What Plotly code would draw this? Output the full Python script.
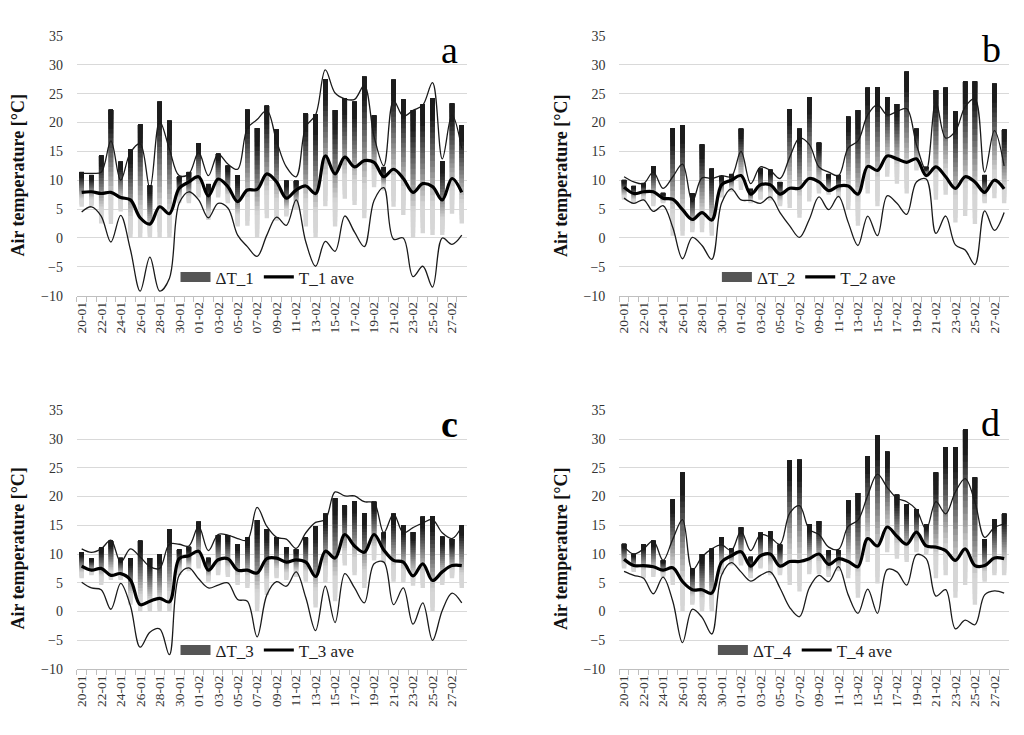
import plotly.graph_objects as go

# ---------------- data ----------------
dates = [f"{d:02d}-01" for d in range(20, 32)] + [f"{d:02d}-02" for d in range(1, 29)]

# panel a
dt1_top = [11.4, 10.9, 14.3, 22.2, 13.2, 15.3, 19.7, 9.1, 23.6, 20.3, 10.6, 11.4, 16.4, 9.3, 14.6, 12.5, 10.9, 22.2, 19.0, 22.9,
           18.8, 9.9, 9.9, 21.6, 21.4, 27.5, 22.1, 24.2, 23.6, 27.9, 21.2, 12.2, 27.4, 24.0, 22.1, 23.1, 24.2, 13.3, 23.3, 19.5]
dt1_low = [5.4, 5.5, 2.5, 2.4, 4.6, 0.0, 0.0, 0.0, 0.0, 0.0, 6.0, 6.0, 7.0, 3.1, 7.0, 6.0, 2.0, 2.1, 0.0, 3.4,
           3.0, 3.7, 5.0, 2.0, 0.0, 5.5, 2.0, 6.8, 5.7, 3.4, 8.8, 8.2, 5.4, 4.0, 0.0, 0.8, 0.5, 0.5, 4.2, 2.5]
t1_max = [11.2, 11.2, 11.4, 16.8, 10.0, 14.8, 16.3, 8.6, 20.2, 15.4, 10.8, 11.1, 14.8, 10.8, 14.5, 12.8, 11.9, 19.0, 20.5, 22.1,
          16.8, 12.3, 10.6, 19.3, 21.3, 29.1, 25.1, 24.1, 24.0, 26.4, 17.6, 12.5, 23.8, 21.1, 22.1, 23.0, 26.9, 13.7, 21.3, 15.5]
t1_min = [4.5, 5.4, 3.8, -0.7, 3.9, -2.0, -9.2, -3.3, -9.2, -7.0, 6.0, 8.0, 6.6, 3.5, 6.0, 5.2, 0.5, -1.5, -3.2, 0.5,
          3.6, 2.2, 6.6, -0.7, -4.9, -0.6, -2.3, 3.8, 1.0, -1.5, 6.5, 8.7, -0.2, 0.0, -6.7, -4.9, -8.5, 0.0, -1.1, 0.5]
t1_ave = [7.9, 8.0, 7.7, 7.9, 7.0, 6.6, 3.5, 2.4, 5.4, 4.2, 8.6, 9.7, 10.6, 7.3, 10.2, 8.9, 6.3, 8.3, 8.4, 11.1,
          9.7, 6.9, 8.3, 9.0, 7.7, 14.2, 11.1, 14.0, 12.3, 13.4, 13.1, 10.6, 11.9, 10.3, 7.9, 9.4, 8.9, 6.6, 10.3, 7.9]

# panel b
dt2_top = [10.0, 9.0, 9.4, 12.4, 7.7, 19.0, 19.5, 7.7, 16.2, 12.0, 10.6, 11.0, 18.9, 8.5, 12.0, 11.8, 9.7, 22.3, 18.9, 24.4,
           16.5, 11.0, 10.8, 21.0, 22.1, 26.0, 26.1, 24.4, 23.2, 28.8, 18.9, 12.3, 25.6, 26.0, 21.9, 27.1, 27.1, 10.8, 26.7, 18.8]
dt2_low = [6.6, 6.0, 6.5, 5.5, 6.0, 0.4, 0.4, 1.0, 1.0, 0.4, 7.0, 8.0, 8.3, 6.0, 6.6, 6.5, 5.5, 5.2, 3.5, 6.3,
           7.7, 7.5, 7.0, 4.9, 2.1, 7.7, 5.5, 10.6, 9.4, 7.7, 11.7, 10.5, 6.6, 7.5, 2.7, 3.8, 2.4, 6.0, 6.9, 6.0]
t2_max = [10.6, 9.7, 9.4, 11.4, 8.6, 10.6, 12.8, 6.3, 10.4, 10.3, 10.8, 10.6, 15.0, 9.4, 12.3, 11.7, 10.3, 14.0, 17.3, 16.2,
          12.3, 11.4, 10.8, 15.6, 16.8, 21.3, 23.1, 21.3, 21.9, 22.4, 16.2, 11.7, 23.6, 17.3, 18.5, 22.7, 24.1, 11.4, 18.6, 12.5]
t2_min = [6.9, 6.0, 6.6, 4.6, 5.6, 1.8, -3.6, 0.1, -1.3, -3.7, 6.0, 8.5, 6.6, 6.5, 6.0, 7.1, 4.4, 2.1, 0.1, 3.2,
          7.1, 4.9, 7.2, 2.7, -1.3, 3.8, 0.4, 7.3, 6.0, 4.1, 9.7, 10.2, 0.8, 3.8, -1.2, -2.1, -4.6, 4.7, 1.3, 4.4]
t2_ave = [8.8, 7.7, 8.0, 8.0, 6.9, 6.7, 4.9, 3.2, 4.4, 3.1, 9.2, 10.0, 10.8, 7.6, 9.2, 9.2, 7.6, 8.6, 8.6, 10.3,
          9.7, 8.2, 9.0, 9.0, 7.6, 12.4, 11.7, 14.2, 13.7, 13.1, 13.7, 10.8, 12.3, 10.6, 8.6, 10.6, 9.7, 7.9, 10.0, 8.5]

# panel c
dt3_top = [10.3, 9.2, 11.2, 12.3, 9.3, 9.3, 12.3, 9.3, 10.0, 14.3, 10.8, 11.2, 15.6, 9.3, 13.3, 13.3, 11.7, 12.9, 15.9, 14.3,
           12.9, 11.2, 10.8, 12.9, 14.8, 17.0, 19.7, 18.5, 19.2, 17.1, 19.1, 13.7, 17.0, 15.0, 13.8, 16.5, 16.6, 13.0, 12.6, 15.0]
dt3_low = [5.8, 6.3, 4.6, 5.5, 5.5, 1.2, 0.0, 0.0, 0.0, 0.0, 6.3, 7.0, 7.5, 5.2, 6.3, 6.0, 4.6, 4.1, 0.0, 2.9,
           5.8, 5.5, 6.0, 5.2, 0.7, 5.0, 1.8, 8.0, 6.3, 4.1, 8.9, 8.5, 5.2, 5.0, 4.5, 4.1, 0.0, 4.6, 5.8, 4.1]
t3_max = [10.9, 10.3, 10.9, 12.4, 8.6, 10.9, 9.5, 7.8, 7.5, 11.7, 11.7, 11.4, 14.8, 10.6, 13.4, 13.3, 12.7, 12.4, 18.1, 14.8,
          12.9, 12.6, 11.0, 13.7, 15.5, 16.0, 20.8, 20.1, 20.1, 19.1, 18.9, 13.7, 17.0, 13.7, 14.6, 15.4, 16.0, 13.7, 12.7, 14.8]
t3_min = [5.1, 4.1, 3.8, 0.4, 4.9, 1.0, -6.2, -3.6, -3.0, -7.5, 6.3, 7.6, 5.7, 4.1, 4.6, 5.0, 2.1, 1.8, -4.4, 2.9,
          5.2, 4.4, 6.9, 2.4, -3.3, 4.4, -1.9, 6.6, 4.1, 1.5, 8.3, 8.6, 1.2, 4.1, -2.2, 1.5, -5.0, 0.2, 3.2, 1.5]
t3_ave = [7.9, 7.2, 7.5, 6.3, 6.6, 5.5, 1.2, 1.8, 2.3, 1.7, 9.2, 9.7, 10.5, 7.2, 9.0, 9.2, 7.2, 7.2, 6.7, 9.2,
          9.3, 8.6, 9.0, 8.6, 6.1, 10.5, 9.3, 13.4, 11.4, 10.3, 13.4, 10.7, 8.9, 8.6, 6.2, 8.3, 5.4, 6.9, 8.0, 8.0]

# panel d
dt4_top = [11.7, 10.0, 11.7, 12.3, 8.9, 19.5, 24.2, 7.5, 10.0, 10.9, 12.9, 10.9, 14.6, 9.5, 13.7, 13.9, 11.6, 26.3, 26.4, 15.2,
           15.7, 10.6, 10.6, 19.3, 20.6, 27.0, 30.6, 27.8, 20.3, 18.6, 17.8, 15.1, 24.2, 28.6, 28.6, 31.7, 23.3, 12.6, 16.0, 17.0]
dt4_low = [7.5, 6.9, 5.8, 6.0, 6.0, 4.6, 0.0, 1.2, 0.0, 0.0, 6.5, 8.0, 8.0, 5.8, 7.5, 6.3, 6.3, 4.6, 3.5, 6.5,
           6.5, 6.0, 7.0, 5.8, 2.4, 8.6, 4.9, 10.3, 9.2, 8.6, 10.3, 10.0, 5.8, 6.3, 2.4, 4.6, 1.2, 5.2, 6.3, 6.3]
t4_max = [11.3, 10.0, 10.9, 12.3, 8.9, 12.6, 16.0, 7.2, 9.5, 10.9, 11.6, 10.6, 14.0, 10.6, 13.4, 12.9, 11.7, 17.1, 18.4, 14.3,
          13.4, 11.2, 10.8, 14.8, 15.9, 20.2, 23.9, 21.6, 19.7, 19.1, 17.7, 14.3, 19.1, 17.0, 20.8, 23.1, 19.1, 12.9, 14.6, 15.2]
t4_min = [7.0, 6.3, 5.8, 3.1, 6.0, 1.8, -5.4, 0.4, -1.0, -3.9, 6.3, 8.5, 6.9, 5.3, 6.3, 6.9, 4.1, 0.7, -0.9, 4.1,
          6.3, 5.2, 7.8, 2.9, -0.3, 3.9, -0.3, 7.3, 6.9, 4.6, 9.9, 9.2, 2.7, 3.8, -3.0, -1.5, -2.3, 2.9, 3.6, 3.2]
t4_ave = [9.1, 8.0, 8.0, 7.8, 7.2, 7.6, 5.2, 3.8, 3.8, 3.2, 8.6, 9.7, 10.4, 7.9, 9.7, 10.0, 7.9, 8.7, 8.7, 9.2,
          10.0, 8.2, 9.2, 8.7, 7.8, 12.7, 11.4, 14.7, 13.1, 11.7, 13.8, 11.4, 11.2, 10.6, 8.9, 10.9, 8.0, 8.0, 9.3, 9.2]

panel_letters = ["a", "b", "c", "d"]
bar_names = ["ΔT_1", "ΔT_2", "ΔT_3", "ΔT_4"]
ave_names = ["T_1 ave", "T_2 ave", "T_3 ave", "T_4 ave"]
y_ticks = [-10, -5, 0, 5, 10, 15, 20, 25, 30, 35]

# ---------------- styling ----------------
# page body keeps its default 8px margin: figure is 16px smaller than the window
OFF = 8
W, H = 1024 - 2 * OFF, 735 - 2 * OFF
FONT = "Liberation Serif"
panels = [
    dict(top=dt1_top, low=dt1_low, tmax=t1_max, tmin=t1_min, ave=t1_ave, px=(74, 465), py=(29.3, 294.7),
         letter_xy=(448, 44), title_xy=(15, 172), leg_xy=(173, 276), bold_letter=False),
    dict(top=dt2_top, low=dt2_low, tmax=t2_max, tmin=t2_min, ave=t2_ave, px=(618, 1009), py=(29.3, 294.7),
         letter_xy=(991, 43), title_xy=(559, 172), leg_xy=(716, 276), bold_letter=False),
    dict(top=dt3_top, low=dt3_low, tmax=t3_max, tmin=t3_min, ave=t3_ave, px=(74, 465), py=(411.7, 676),
         letter_xy=(448, 426), title_xy=(15, 553), leg_xy=(173, 657), bold_letter=True),
    dict(top=dt4_top, low=dt4_low, tmax=t4_max, tmin=t4_min, ave=t4_ave, px=(618, 1009), py=(411.7, 676),
         letter_xy=(990, 425), title_xy=(559, 553), leg_xy=(712, 657), bold_letter=False),
]

NSEG = 24


def seg_gray(t):
    # t: 0 at bar bottom, 1 at bar top
    if t < 0.22:
        g = 214
    elif t > 0.85:
        g = 28
    else:
        g = 214 - (214 - 28) * (t - 0.22) / (0.85 - 0.22)
    g = int(round(g))
    return f"rgb({g},{g},{g})"


def fx(px):
    return (px - OFF) / W


def fy(py):
    return 1 - (py - OFF) / H


fig = go.Figure()
layout = dict(
    width=W, height=H, margin=dict(l=0, r=0, t=0, b=0),
    paper_bgcolor="white", plot_bgcolor="white",
    barmode="overlay", font=dict(family=FONT, color="#333333"),
    annotations=[],
)

for p_i, p in enumerate(panels):
    n = p_i + 1
    xa = f"x{n}" if n > 1 else "x"
    ya = f"y{n}" if n > 1 else "y"
    leg = f"legend{n}" if n > 1 else "legend"
    heights = [t - l for t, l in zip(p["top"], p["low"])]

    # legend proxy for the gradient bars (wide swatch)
    fig.add_trace(go.Scatter(x=[None], y=[None], mode="lines", line=dict(color="#555555", width=10),
                             name=bar_names[p_i], showlegend=True, legend=leg, xaxis=xa, yaxis=ya))

    # gradient bars: overlaid segments, each from its own start up to the bar top
    for k in range(NSEG):
        frac = k / NSEG
        bases = [l + h * frac for l, h in zip(p["low"], heights)]
        ys = [h * (1 - frac) for h in heights]
        fig.add_trace(go.Bar(
            x=dates, y=ys, base=bases, width=0.45,
            marker=dict(color=seg_gray((k + 0.5) / NSEG), line=dict(width=0)),
            name=bar_names[p_i], showlegend=False,
            xaxis=xa, yaxis=ya, hoverinfo="skip",
        ))

    fig.add_trace(go.Scatter(x=dates, y=p["tmax"], mode="lines", line=dict(color="#1a1a1a", width=1.3, shape="spline", smoothing=1.0),
                             showlegend=False, xaxis=xa, yaxis=ya, name="T max"))
    fig.add_trace(go.Scatter(x=dates, y=p["tmin"], mode="lines", line=dict(color="#1a1a1a", width=1.3, shape="spline", smoothing=1.0),
                             showlegend=False, xaxis=xa, yaxis=ya, name="T min"))
    fig.add_trace(go.Scatter(x=dates, y=p["ave"], mode="lines", line=dict(color="#000000", width=3.2, shape="spline", smoothing=1.0),
                             name=ave_names[p_i], showlegend=True, legend=leg, xaxis=xa, yaxis=ya))

    x0, x1 = p["px"]
    y0, y1 = p["py"]
    xkey = "xaxis" if n == 1 else f"xaxis{n}"
    ykey = "yaxis" if n == 1 else f"yaxis{n}"
    layout[xkey] = dict(
        domain=[fx(x0), fx(x1)], anchor=ya, type="category", range=[-0.5, len(dates) - 0.5],
        tickmode="array", tickvals=dates, ticktext=[d if i % 2 == 0 else "" for i, d in enumerate(dates)],
        tickson="boundaries", ticks="outside", ticklen=5, tickcolor="#bfbfbf", tickwidth=1,
        showline=True, linecolor="#bfbfbf", linewidth=1, showgrid=False, zeroline=False,
        tickangle=-90, tickfont=dict(family=FONT, size=13.5, color="#333333"),
    )
    layout[ykey] = dict(
        domain=[fy(y1), fy(y0)], anchor=xa, range=[-10, 35], tickmode="array", tickvals=y_ticks,
        showgrid=True, gridcolor="#d9d9d9", gridwidth=1, zeroline=False, showline=False,
        ticks="outside", ticklen=10, tickcolor="rgba(0,0,0,0)",
        tickfont=dict(family=FONT, size=14, color="#333333"),
    )
    lx, ly = p["leg_xy"]
    layout[leg] = dict(
        x=fx(lx), y=fy(ly), xanchor="left", yanchor="middle", orientation="h",
        bgcolor="rgba(0,0,0,0)", font=dict(family=FONT, size=17, color="#222222"),
        itemwidth=30, tracegroupgap=0,
    )
    tx, ty = p["title_xy"]
    layout["annotations"].append(dict(
        text="<b>Air temperature [°C]</b>", x=fx(tx), y=fy(ty), xref="paper", yref="paper",
        xanchor="center", yanchor="middle",
        textangle=-90, showarrow=False, font=dict(family=FONT, size=18, color="#111111"),
    ))
    ax_, ay_ = p["letter_xy"]
    letter = f"<b>{panel_letters[p_i]}</b>" if p["bold_letter"] else panel_letters[p_i]
    layout["annotations"].append(dict(
        text=letter, x=fx(ax_), y=fy(ay_), xref="paper", yref="paper",
        xanchor="center", yanchor="middle",
        showarrow=False, font=dict(family=FONT, size=38, color="#000000"),
    ))

fig.update_layout(**layout)
fig.write_html("out.html", config={"displayModeBar": False})
